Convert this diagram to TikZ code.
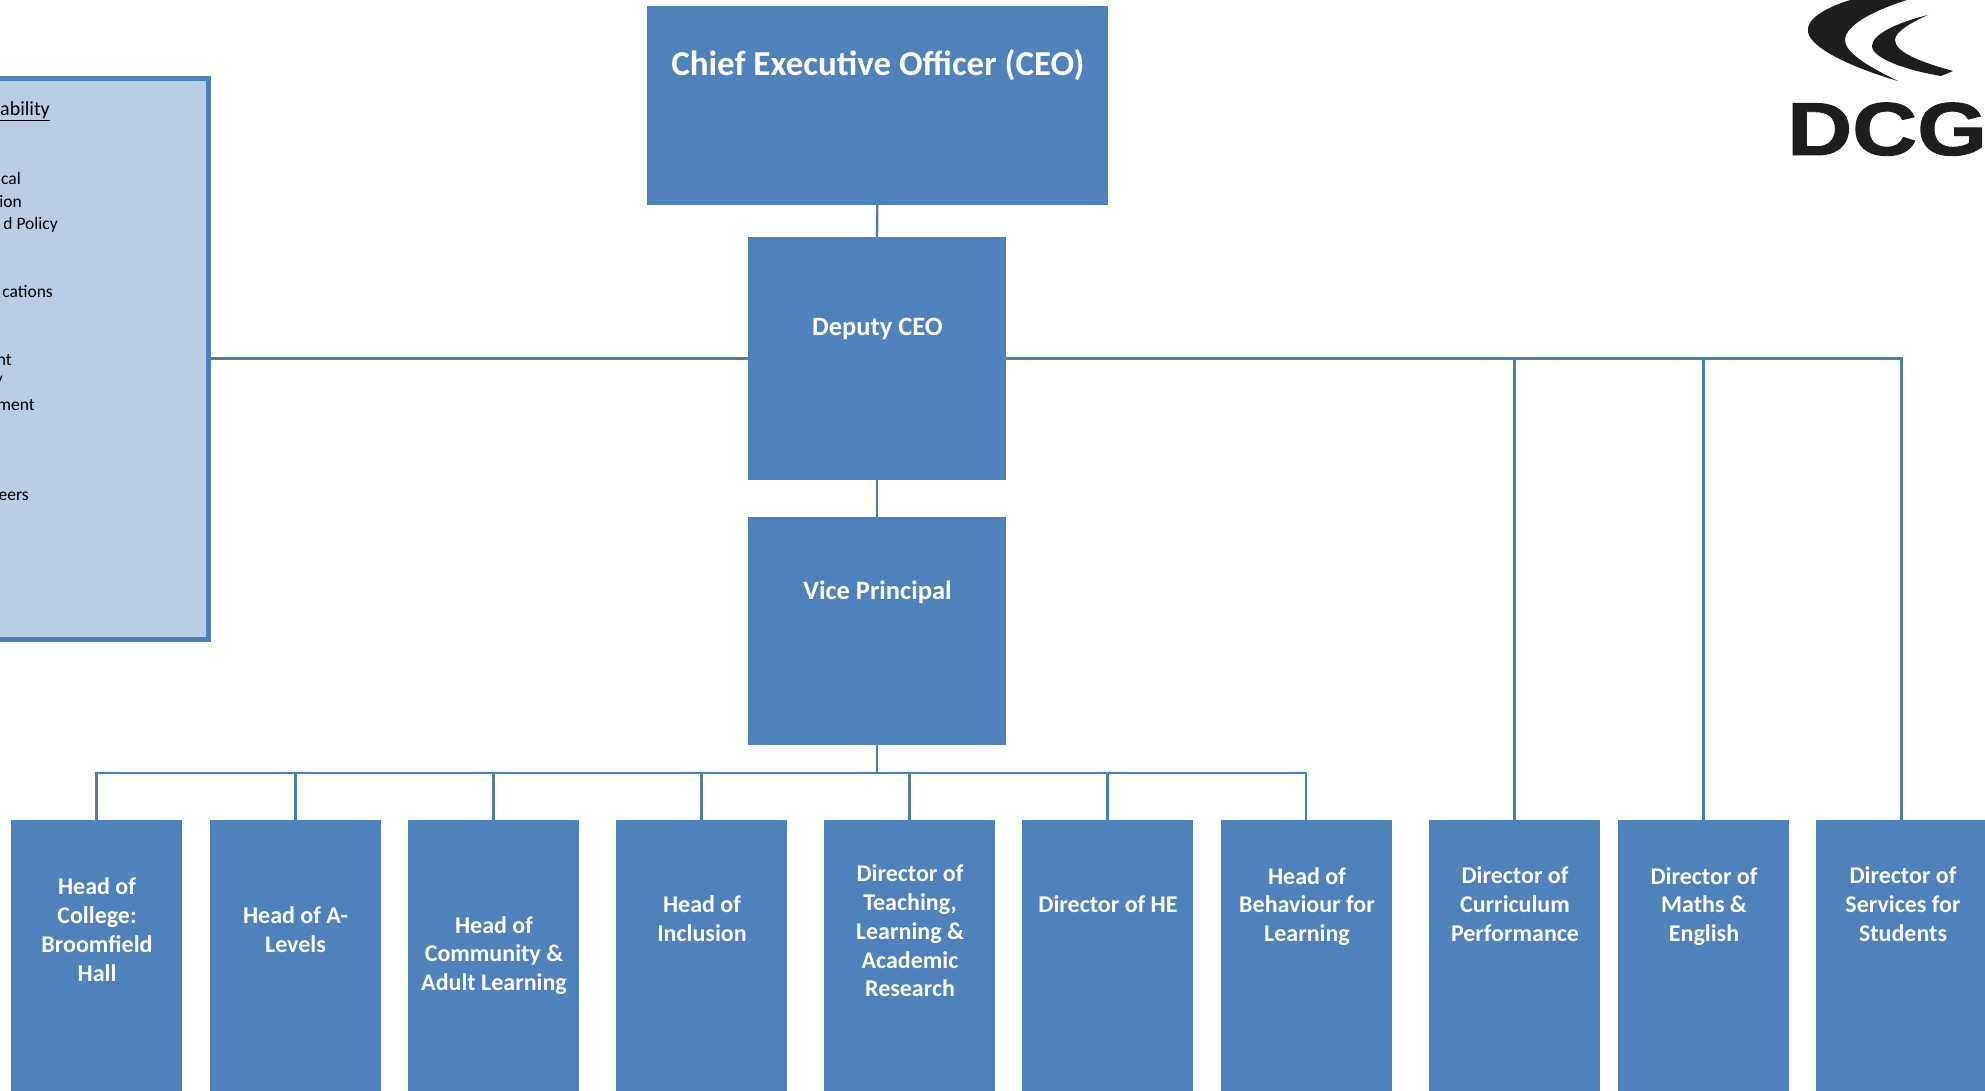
\documentclass[tikz,border=0pt]{standalone}
\usepackage{fontspec}
\setmainfont{Carlito}
\newfontfamily\logofont[BoldFeatures={FakeBold=1.2}]{Liberation Sans}
\definecolor{boxblue}{HTML}{4F81BD}
\definecolor{paleblue}{HTML}{B9CDE5}
\definecolor{linkblue}{HTML}{4A7EBB}
\definecolor{logoblack}{HTML}{1D1D1B}
\tikzset{
  orgbox/.style={rectangle,fill=boxblue,inner sep=0pt,outer sep=0pt,anchor=north west},
  lowbox/.style={orgbox,minimum width=171pt,minimum height=271pt},
  midbox/.style={orgbox,minimum width=258pt},
  lowtext/.style={text=white,font=\bfseries\fontsize{24}{28.8}\selectfont,align=center,inner sep=0pt},
  toptext/.style={text=white,font=\bfseries\fontsize{26.5}{30}\selectfont,align=center,inner sep=0pt},
  sidetext/.style={text=black,font=\fontsize{17.5}{21}\selectfont,anchor=base east,inner sep=0pt},
  link/.style={draw=linkblue,line width=2.4pt}
}
\begin{document}
\begin{tikzpicture}[x=1pt,y=-1pt]
\useasboundingbox (0,0) rectangle (1985,1091);
% side panel
\node[rectangle,draw=boxblue,fill=paleblue,line width=5.5pt,inner sep=0pt,outer sep=0pt,minimum width=228pt,minimum height=560.5pt,anchor=north east] (panel) at (208.25,78.75) {};
\node[sidetext,font=\fontsize{20}{24}\selectfont] (s1) at (50,116) {\underline{ability}};
\node[sidetext] (s2) at (21,185) {cal};
\node[sidetext] (s3) at (22,208) {ion};
\node[sidetext] (s4) at (58,230) {d Policy};
\node[sidetext] (s5) at (53,298) {cations};
\node[sidetext] (s6) at (12,365) {nt};
\node[sidetext] (s7) at (3,384) {y};
\node[sidetext] (s8) at (35,410) {ment};
\node[sidetext] (s9) at (29,500) {eers};
% upper boxes
\node[orgbox,minimum width=461.5pt,minimum height=198.5pt] (ceo) at (646.5,6.5) {};
\node[midbox,minimum height=243pt] (dep) at (748,237) {};
\node[midbox,minimum height=228pt] (vp) at (748,517) {};
\node[text=white,font=\bfseries\fontsize{35}{40}\selectfont,inner sep=0pt] (ceot) at (878,65.5) {Chief Executive Officer (CEO)};
\node[toptext] (dept) at (877.5,329) {Deputy CEO};
\node[toptext] (vpt) at (877.5,592) {Vice Principal};
% lower boxes
\node[lowbox] (b1) at (11,820) {};
\node[lowbox] (b2) at (210,820) {};
\node[lowbox] (b3) at (408,820) {};
\node[lowbox] (b4) at (616,820) {};
\node[lowbox] (b5) at (824,820) {};
\node[lowbox] (b6) at (1022,820) {};
\node[lowbox] (b7) at (1220.5,820) {};
\node[lowbox] (b8) at (1429,820) {};
\node[lowbox] (b9) at (1618,820) {};
\node[lowbox] (b10) at (1816,820) {};
\node[lowtext] (t1) at (97,929.5) {Head of\\College:\\Broomfield\\Hall};
\node[lowtext] (t2) at (295.5,929.5) {Head of A-\\Levels};
\node[lowtext] (t3) at (494,955.5) {Head of\\Community \&\\Adult Learning};
\node[lowtext] (t4) at (702,919) {Head of\\Inclusion};
\node[lowtext] (t5) at (910,931) {Director of\\Teaching,\\Learning \&\\Academic\\Research};
\node[lowtext] (t6) at (1108,904) {Director of HE};
\node[lowtext] (t7) at (1307,906.5) {Head of\\Behaviour for\\Learning};
\node[lowtext] (t8) at (1515,904) {Director of\\Curriculum\\Performance};
\node[lowtext] (t9) at (1704,906.5) {Director of\\Maths \&\\English};
\node[lowtext] (t10) at (1903,904) {Director of\\Services for\\Students};
% connectors
\coordinate (busv) at (877,773);
\draw[link] (ceo.south) -- (dep.north);
\draw[link] (dep.south) -- (vp.north);
\draw[link] (dep.west) -- (dep.west -| panel.east);
\draw[link] (vp.south) -- (busv);
\foreach \n in {b1,b2,b3,b4,b5,b6,b7}{
  \draw[link] (busv) -- (busv -| \n.north) -- (\n.north);
}
\foreach \n in {b8,b9,b10}{
  \draw[link] (dep.east) -- (dep.east -| \n.north) -- (\n.north);
}
% logo
\fill[logoblack] (1850,0) .. controls (1822,9) and (1806,20) .. (1808,32)
  .. controls (1811,50) and (1860,70) .. (1898,81)
  .. controls (1865,65) and (1845,52) .. (1845,40)
  .. controls (1845,25) and (1875,10) .. (1907,0) -- cycle;
\fill[logoblack] (1928,15) .. controls (1895,23) and (1872,35) .. (1872,46)
  .. controls (1872,58) and (1905,70) .. (1941,76) -- (1953,71)
  .. controls (1920,62) and (1895,52) .. (1895,40)
  .. controls (1895,32) and (1910,23) .. (1928,15) -- cycle;
\node[anchor=base west,inner sep=0pt,xscale=1.2,text=logoblack,font=\logofont\bfseries\fontsize{75}{80}\selectfont] (dcg) at (1787,155) {DCG};
\end{tikzpicture}
\end{document}
